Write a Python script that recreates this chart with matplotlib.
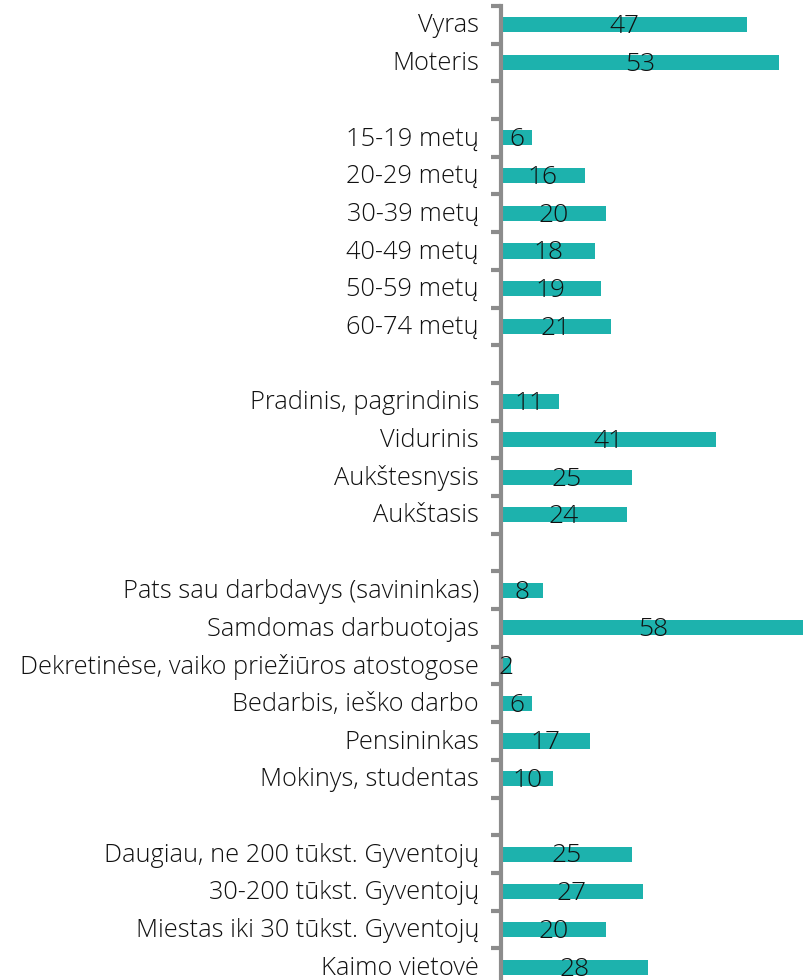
import matplotlib
matplotlib.use("Agg")
import matplotlib.pyplot as plt

# Data (groups separated by empty rows)
gender_labels = ["Vyras", "Moteris"]
gender_values = [47, 53]
age_labels = ["15-19 metų", "20-29 metų", "30-39 metų", "40-49 metų", "50-59 metų", "60-74 metų"]
age_values = [6, 16, 20, 18, 19, 21]
edu_labels = ["Pradinis, pagrindinis", "Vidurinis", "Aukštesnysis", "Aukštasis"]
edu_values = [11, 41, 25, 24]
job_labels = ["Pats sau darbdavys (savininkas)", "Samdomas darbuotojas",
              "Dekretinėse, vaiko priežiūros atostogose", "Bedarbis, ieško darbo",
              "Pensininkas", "Mokinys, studentas"]
job_values = [8, 58, 2, 6, 17, 10]
place_labels = ["Daugiau, ne 200 tūkst. Gyventojų", "30-200 tūkst. Gyventojų",
                "Miestas iki 30 tūkst. Gyventojų", "Kaimo vietovė"]
place_values = [25, 27, 20, 28]

groups = [(gender_labels, gender_values), (age_labels, age_values),
          (edu_labels, edu_values), (job_labels, job_values),
          (place_labels, place_values)]

labels, values = [], []
for i, (lab, val) in enumerate(groups):
    if i > 0:
        labels.append("")
        values.append(None)
    labels += lab
    values += val

n = len(labels)
W, H = 804, 980
fig = plt.figure(figsize=(W / 100, H / 100), dpi=100)
top_px, bot_px = 6, 986
left_px, right_px = 501, 805
ax = fig.add_axes([left_px / W, (H - bot_px) / H, (right_px - left_px) / W, (bot_px - top_px) / H])

fam = ["Open Sans", "DejaVu Sans"]
color = "#1db2ad"
ys = list(range(n))
for y, v in zip(ys, values):
    if v is None:
        continue
    ax.barh(y, v, height=0.4, color=color, left=0)
    ax.text(v / 2, y + 0.05, str(v), ha="center", va="center", fontsize=19,
            family=fam, fontweight="light", color="#111111")

ax.set_xlim(0, 58)
ax.set_ylim(n - 0.5, -0.5)
ax.set_xticks([])
ax.set_yticks([i - 0.5 for i in range(n + 1)])
ax.set_yticklabels([])
ax.tick_params(axis="y", direction="out", length=7, width=3, color="#8c8c8c")
for y, lab in zip(ys, labels):
    if lab:
        ax.text(-4.2, y + 0.03, lab, ha="right", va="center", fontsize=18.3,
                family=fam, fontweight="light", color="#111111")
for s in ["top", "right", "bottom"]:
    ax.spines[s].set_visible(False)
ax.spines["left"].set_color("#8c8c8c")
ax.spines["left"].set_linewidth(3)
ax.set_facecolor("none")

fig.savefig("out.png", dpi=100)
